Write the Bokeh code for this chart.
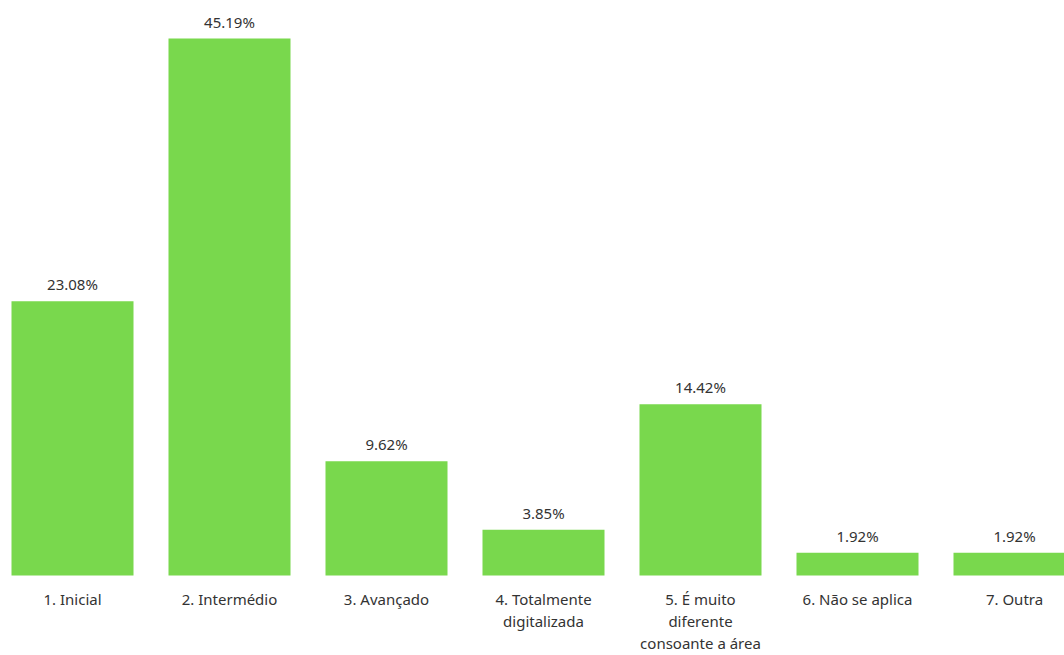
from bokeh.plotting import figure
from bokeh.models import ColumnDataSource, Range1d
from bokeh.core.properties import value
from bokeh.embed import file_html
from bokeh.resources import INLINE

categories = ["1. Inicial", "2. Intermédio", "3. Avançado", "4. Totalmente\ndigitalizada",
              "5. É muito\ndiferente\nconsoante a área", "6. Não se aplica", "7. Outra"]
values = [23.08, 45.19, 9.62, 3.85, 14.42, 1.92, 1.92]
value_labels = ["23.08%", "45.19%", "9.62%", "3.85%", "14.42%", "1.92%", "1.92%"]

xs = list(range(len(categories)))
src = ColumnDataSource(dict(x=xs, top=values, cat=categories, lab=value_labels, zero=[0]*len(xs)))

W, H = 1064, 655
step = 157.0
x0 = -72.0 / step
ppu = 537.0 / 45.19
y_top = 575.0 / ppu
y_bot = -(H - 575.0) / ppu

p = figure(width=W, height=H, output_backend="svg", toolbar_location=None,
           x_range=Range1d(x0, x0 + W / step), y_range=Range1d(y_bot, y_top),
           min_border=0, min_border_left=0, min_border_right=0, min_border_top=0, min_border_bottom=0)
p.axis.visible = False
p.grid.visible = False
p.outline_line_color = None
p.background_fill_color = "white"
p.border_fill_color = "white"

p.vbar(x="x", top="top", bottom=0, width=122.0 / step, source=src,
       fill_color="#79D84D", line_color=None)

p.text(x="x", y="top", text="lab", source=src, text_align="center", text_baseline="bottom",
       y_offset=-7, text_font=value("Noto Sans"), text_font_size="15px", text_color="#333333")

p.text(x="x", y="zero", text="cat", source=src, text_align="center", text_baseline="top",
       y_offset=13, text_font=value("Noto Sans"), text_font_size="15px", text_color="#333333",
       text_line_height=1.1)

open("out.html", "w").write(file_html(p, INLINE))
